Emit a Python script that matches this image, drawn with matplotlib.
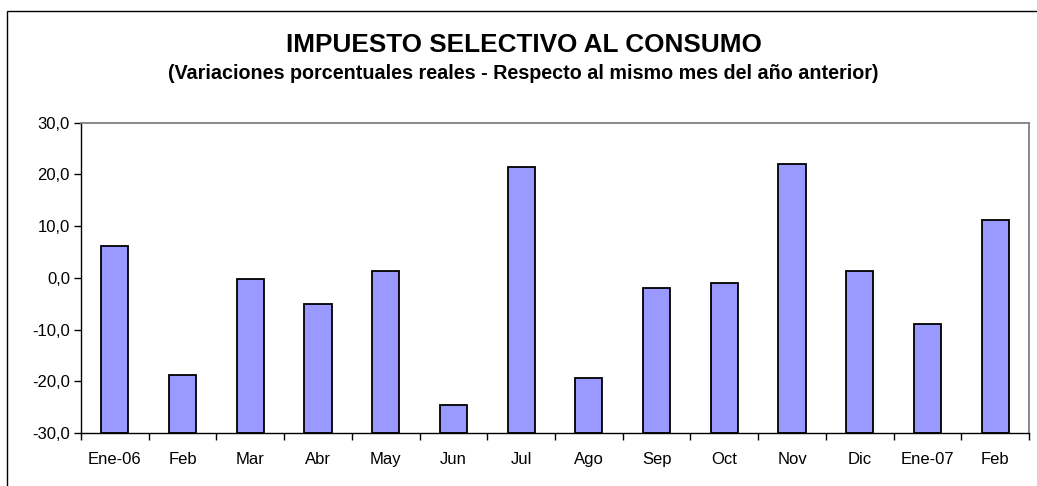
import numpy as np
import matplotlib.pyplot as plt
from matplotlib.patches import Rectangle
from matplotlib.ticker import FuncFormatter

plt.rcParams['font.family'] = ['Liberation Sans', 'DejaVu Sans']

months = ['Ene-06', 'Feb', 'Mar', 'Abr', 'May', 'Jun', 'Jul', 'Ago',
          'Sep', 'Oct', 'Nov', 'Dic', 'Ene-07', 'Feb']
variacion = [6.1, -18.8, -0.3, -5.1, 1.3, -24.5, 21.4, -19.4,
             -1.9, -0.9, 22.1, 1.3, -8.9, 11.2]

y_min, y_max = -30, 30

fig = plt.figure(figsize=(10.37, 4.86), dpi=100)
ax = fig.add_axes([0.0781, 0.1091, 0.9142, 0.6384])

xs = np.arange(len(months))
vals = np.array(variacion)
# Excel-style: bars start at the axis crossing (-30)
ax.bar(xs, vals - y_min, bottom=y_min, width=0.4, color='#9999FF',
       edgecolor='black', linewidth=1.3)

ax.set_xlim(-0.5, len(months) - 0.5)
ax.set_ylim(y_min, y_max)
ax.set_yticks(np.arange(y_min, y_max + 1, 10))
ax.yaxis.set_major_formatter(FuncFormatter(lambda v, _: f'{v:.1f}'.replace('.', ',')))

ax.set_xticks(np.arange(-0.5, len(months), 1.0))
ax.set_xticklabels([])
ax.set_xticks(xs, minor=True)
ax.set_xticklabels(months, minor=True)
ax.tick_params(axis='x', which='major', length=5, width=1, direction='out')
ax.tick_params(axis='x', which='minor', length=0, pad=14, labelsize=12)
ax.tick_params(axis='y', length=5, width=1, direction='out', pad=3, labelsize=12)

for side in ['top', 'right']:
    ax.spines[side].set_color('#808080')
    ax.spines[side].set_linewidth(1.3)
ax.spines['left'].set_linewidth(1)
ax.spines['bottom'].set_linewidth(1)

fig.text(0.505, 0.908, 'IMPUESTO SELECTIVO AL CONSUMO', ha='center', va='center',
         fontsize=18.8, fontweight='bold')
fig.text(0.505, 0.848, '(Variaciones porcentuales reales - Respecto al mismo mes del año anterior)',
         ha='center', va='center', fontsize=14.2, fontweight='bold')

fig.patches.append(Rectangle((7 / 1037, -0.1), 1.1, 1 - 11 / 486 + 0.1,
                             transform=fig.transFigure, fill=False,
                             edgecolor='black', linewidth=1))

fig.savefig('out.png', dpi=100)
plt.close(fig)
